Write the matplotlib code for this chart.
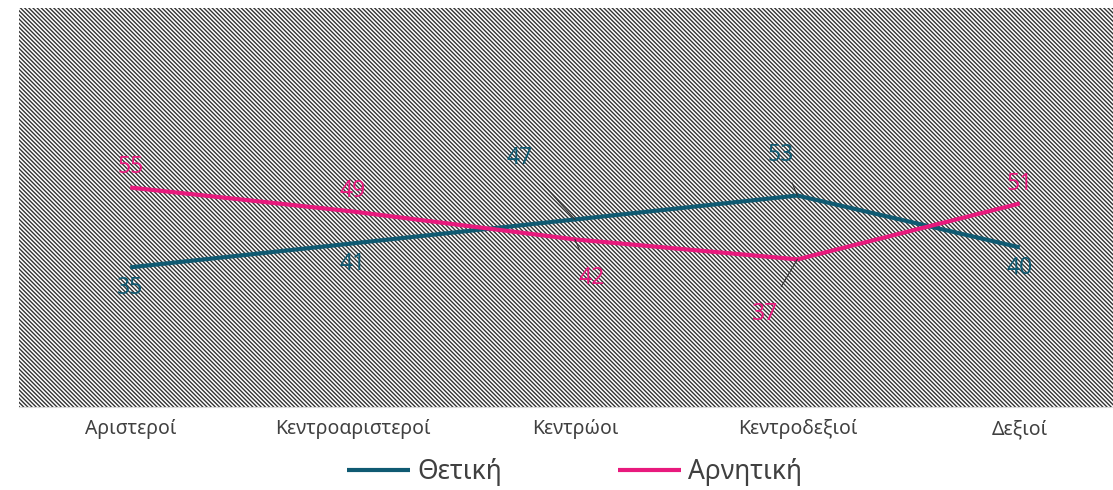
import matplotlib
matplotlib.use("Agg")
import matplotlib.pyplot as plt

plt.rcParams['font.family'] = ['Noto Sans', 'DejaVu Sans']
plt.rcParams['hatch.linewidth'] = 1.0

categories = ['Αριστεροί', 'Κεντροαριστεροί', 'Κεντρώοι', 'Κεντροδεξιοί', 'Δεξιοί']
thetiki = [35, 41, 47, 53, 40]
arnitiki = [55, 49, 42, 37, 51]

teal = '#0f5a72'
pink = '#e8197d'

fig = plt.figure(figsize=(11.13, 4.9), dpi=100)
ax = fig.add_axes([0.0171, 0.1694, 0.983, 0.8143])
ax.patch.set_facecolor('white')
ax.patch.set_edgecolor('#333333')
ax.patch.set_hatch('\\' * 8)
ax.patch.set_linewidth(0)

x = list(range(len(categories)))
ax.plot(x, thetiki, color=teal, lw=3, label='Θετική', solid_capstyle='butt')
ax.plot(x, arnitiki, color=pink, lw=3, label='Αρνητική', solid_capstyle='butt')

ax.set_xlim(-0.5, 4.42)
ax.set_ylim(0, 100)
ax.set_yticks([])
ax.set_xticks(x)
ax.set_xticklabels(categories, fontsize=14, color='#404040')
ax.tick_params(axis='x', length=0, pad=9)
for s in ['top', 'left', 'right']:
    ax.spines[s].set_visible(False)
ax.spines['bottom'].set_color('#d9d9d9')

# label offsets in points (dx, dy)
off_t = [(0, -15), (0, -15), (-40, 44), (-12, 29), (0, -15)]
off_a = [(0, 15), (0, 15), (12, -28), (-23, -39), (0, 14)]

for i in x:
    for vals, offs, col in ((thetiki, off_t, teal), (arnitiki, off_a, pink)):
        dx, dy = offs[i]
        lead = abs(dx) > 5 or abs(dy) > 20
        ax.annotate(str(vals[i]), (i, vals[i]), xytext=(dx, dy), textcoords='offset points',
                    ha='center', va='center', fontsize=16.5, color=col,
                    arrowprops=dict(arrowstyle='-', color='#333333', lw=0.8,
                                    shrinkA=10, shrinkB=0) if lead else None)

fig.legend(loc='lower center', bbox_to_anchor=(0.516, -0.04), ncol=2, frameon=False,
           fontsize=19, handlelength=2.4, handletextpad=0.25, columnspacing=4.4,
           labelcolor='#404040')

fig.savefig('out.png', dpi=100, facecolor='white')
